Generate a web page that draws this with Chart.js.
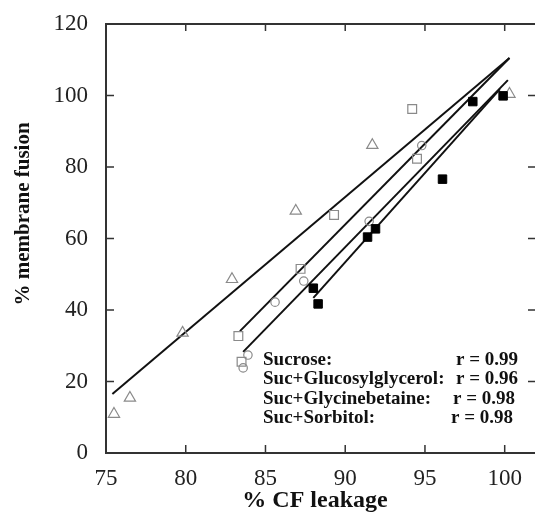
<!DOCTYPE html>
<html>
<head>
<meta charset="utf-8">
<script src="https://cdn.jsdelivr.net/npm/chart.js@4"></script>
<style>
  html, body { margin: 0; padding: 0; background: #fff; }
  #wrap { width: 535px; height: 515px; }
</style>
</head>
<body>
<div id="wrap"><canvas id="fusionChart" width="535" height="515"></canvas></div>
<script>
// 刻度
const xTicks = [75, 80, 85, 90, 95, 100];
const yTicks = [0, 20, 40, 60, 80, 100, 120];

// 三角形
const triX = [75.5, 76.5, 79.8, 82.9, 86.9, 91.7, 100.3];
const triY = [10.9, 15.4, 33.6, 48.6, 67.7, 86.1, 100.4];
// 空心方块
const sqX = [83.3, 83.5, 87.2, 89.3, 94.5, 94.2];
const sqY = [32.7, 25.5, 51.5, 66.6, 82.3, 96.2];
// 空心圆
const circX = [83.6, 83.9, 85.6, 87.4, 91.5, 94.8];
const circY = [23.8, 27.4, 42.2, 48.1, 64.8, 86.0];
// 实心方块
const fillX = [88.0, 88.3, 91.4, 91.9, 96.1, 98.0, 99.9];
const fillY = [46.1, 41.7, 60.4, 62.7, 76.6, 98.3, 99.9];

// 回归线端点
const lineTriX = [75.4, 100.3], lineTriY = [16.5, 110.5];
const lineSqX = [83.4, 100.3], lineSqY = [34.1, 110.5];
const lineCircX = [83.6, 100.2], lineCircY = [28.3, 104.3];
const lineFillX = [88.0, 99.7], lineFillY = [43.4, 101.8];

// 图例文字
const legendNames = ['Sucrose:', 'Suc+Glucosylglycerol:', 'Suc+Glycinebetaine:', 'Suc+Sorbitol:'];
const legendR = ['r = 0.99', 'r = 0.96', 'r = 0.98', 'r = 0.98'];

function pts(xs, ys) {
    return xs.map((x, i) => ({ x: x, y: ys[i] }));
}

function lineSet(xs, ys) {
    return {
        data: pts(xs, ys),
        showLine: true,
        borderColor: '#111',
        borderWidth: 2,
        pointRadius: 0,
        order: 2
    };
}

// 边框和内刻度
const framePlugin = {
    id: 'frame',
    afterDatasetsDraw(chart) {
        const ctx = chart.ctx;
        const a = chart.chartArea;
        const xs = chart.scales.x, ys = chart.scales.y;
        ctx.save();
        ctx.strokeStyle = '#333';
        ctx.lineWidth = 2;
        ctx.beginPath();
        ctx.moveTo(a.right, a.top);
        ctx.lineTo(a.left, a.top);
        ctx.lineTo(a.left, a.bottom);
        ctx.lineTo(a.right, a.bottom);
        ctx.stroke();
        ctx.lineWidth = 1.5;
        ctx.beginPath();
        xTicks.forEach(v => {
            const px = xs.getPixelForValue(v);
            if (v === xs.min) return;
            ctx.moveTo(px, a.bottom); ctx.lineTo(px, a.bottom - 8);
            ctx.moveTo(px, a.top); ctx.lineTo(px, a.top + 7);
        });
        yTicks.forEach(v => {
            const py = ys.getPixelForValue(v);
            if (v === ys.min || v === ys.max) return;
            ctx.moveTo(a.left, py); ctx.lineTo(a.left + 8, py);
            ctx.moveTo(a.right, py); ctx.lineTo(a.right - 7, py);
        });
        ctx.stroke();

        // 坐标轴标题
        ctx.fillStyle = '#111';
        ctx.font = 'bold 24px "Liberation Serif"';
        ctx.textAlign = 'center';
        ctx.textBaseline = 'middle';
        ctx.fillText('% CF leakage', 315, 501);
        ctx.save();
        ctx.translate(24, 214);
        ctx.rotate(-Math.PI / 2);
        ctx.font = 'bold 21px "Liberation Serif"';
        ctx.fillText('% membrane fusion', 0, 0);
        ctx.restore();

        // 图例
        ctx.font = 'bold 19px "Liberation Serif"';
        const rowY = [360, 379, 399, 418];
        const rRight = [518, 518, 515, 513];
        legendNames.forEach((name, i) => {
            ctx.textAlign = 'left';
            ctx.fillText(name, 263, rowY[i]);
            ctx.textAlign = 'right';
            ctx.fillText(legendR[i], rRight[i], rowY[i]);
        });
        ctx.restore();
    }
};

const ctx = document.getElementById('fusionChart').getContext('2d');
new Chart(ctx, {
    type: 'scatter',
    data: {
        datasets: [
            lineSet(lineTriX, lineTriY),
            lineSet(lineSqX, lineSqY),
            lineSet(lineCircX, lineCircY),
            lineSet(lineFillX, lineFillY),
            {
                data: pts(triX, triY),
                pointStyle: 'triangle',
                pointRadius: 6.5,
                borderColor: '#8a8a8a',
                backgroundColor: 'rgba(255,255,255,0)',
                borderWidth: 1.2,
                order: 1
            },
            {
                data: pts(sqX, sqY),
                pointStyle: 'rect',
                pointRadius: 6.2,
                borderColor: '#8a8a8a',
                backgroundColor: 'rgba(255,255,255,0)',
                borderWidth: 1.2,
                order: 1
            },
            {
                data: pts(circX, circY),
                pointStyle: 'circle',
                pointRadius: 4.2,
                borderColor: '#8a8a8a',
                backgroundColor: 'rgba(255,255,255,0)',
                borderWidth: 1.2,
                order: 1
            },
            {
                data: pts(fillX, fillY),
                pointStyle: 'rect',
                pointRadius: 6,
                borderColor: '#000',
                backgroundColor: '#000',
                borderWidth: 1,
                order: 0
            }
        ]
    },
    options: {
        responsive: false,
        animation: false,
        layout: { autoPadding: false, padding: { top: 24, right: 0, left: 0, bottom: 0 } },
        plugins: {
            legend: { display: false },
            tooltip: { enabled: false }
        },
        scales: {
            x: {
                type: 'linear',
                min: 75,
                max: 101.9,
                afterFit(scale) {
                    scale.height = 62;
                    scale.paddingLeft = 0;
                    scale.paddingRight = 0;
                },
                afterBuildTicks(scale) { scale.ticks = xTicks.map(v => ({ value: v })); },
                grid: { display: false },
                border: { display: false },
                ticks: {
                    color: '#222',
                    padding: 4,
                    maxRotation: 0,
                    autoSkip: false,
                    font: { family: '"Liberation Serif"', size: 23 }
                }
            },
            y: {
                type: 'linear',
                min: 0,
                max: 120,
                afterFit(scale) {
                    scale.width = 106;
                    scale.paddingTop = 0;
                    scale.paddingBottom = 0;
                },
                afterBuildTicks(scale) { scale.ticks = yTicks.map(v => ({ value: v })); },
                grid: { display: false },
                border: { display: false },
                ticks: {
                    color: '#222',
                    padding: 10,
                    autoSkip: false,
                    font: { family: '"Liberation Serif"', size: 23 }
                }
            }
        }
    },
    plugins: [framePlugin]
});
</script>
</body>
</html>
